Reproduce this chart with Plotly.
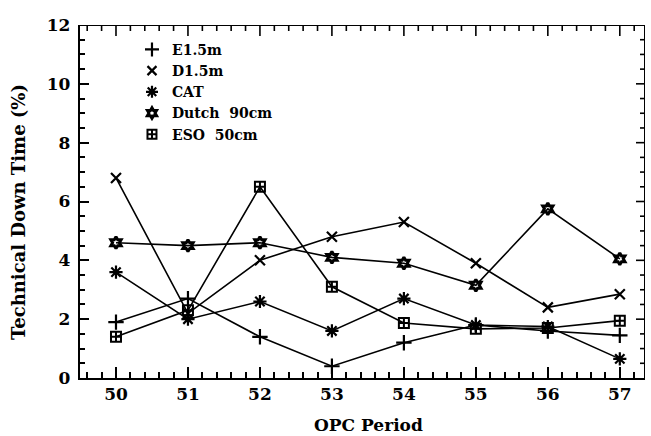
import numpy as np
import plotly.graph_objects as go

periods = [50, 51, 52, 53, 54, 55, 56, 57]

e15m = [1.9, 2.7, 1.4, 0.4, 1.2, 1.8, 1.6, 1.45]
d15m = [6.8, 2.2, 4.0, 4.8, 5.3, 3.9, 2.4, 2.85]
cat = [3.6, 2.0, 2.6, 1.6, 2.7, 1.8, 1.75, 0.65]
dutch90 = [4.6, 4.5, 4.6, 4.1, 3.9, 3.15, 5.75, 4.05]
eso50 = [1.4, 2.3, 6.5, 3.1, 1.87, 1.67, 1.7, 1.95]

series = [
    ("E1.5m", e15m, "cross-thin", 11, 2.2),
    ("D1.5m", d15m, "x-thin", 10, 2.2),
    ("CAT", cat, "asterisk", 11, 2.2),
    ("Dutch  90cm", dutch90, "hexagram-open", 9, 3),
    ("ESO  50cm", eso50, "square-cross-open", 10, 2),
]

FONT = "DejaVu Serif"
XRANGE = [49.5, 57.35]
YRANGE = [0, 12]
X_MINOR = 0.2
Y_MINOR = 0.5
Y_MAJOR = 2

fig = go.Figure()
for name, vals, sym, size, lw in series:
    fig.add_trace(go.Scatter(
        x=periods, y=vals, mode="lines+markers", name=name, showlegend=False,
        line=dict(color="black", width=1.6),
        marker=dict(symbol=sym, size=size, color="black",
                    line=dict(color="black", width=lw)),
    ))
    # legend entries show the symbol only
    fig.add_trace(go.Scatter(
        x=[None], y=[None], mode="markers", name=name,
        marker=dict(symbol=sym, size=size - 1, color="black",
                    line=dict(color="black", width=lw)),
    ))

# top and right edges of the frame, with their tick marks
fx = [XRANGE[0], XRANGE[1], XRANGE[1]]
fy = [YRANGE[1], YRANGE[1], YRANGE[0]]
fig.add_trace(go.Scatter(x=fx, y=fy, mode="lines", showlegend=False,
                         hoverinfo="skip", cliponaxis=False,
                         line=dict(color="black", width=2)))

x_len = (YRANGE[1] - YRANGE[0]) / 353.0   # data units per pixel, vertical
y_len = (XRANGE[1] - XRANGE[0]) / 565.0   # data units per pixel, horizontal
tx, ty = [], []
for v in np.round(49.6 + X_MINOR * np.arange(39), 2):
    if v >= XRANGE[1]:
        break
    major = abs(v - round(v)) < 1e-6
    tx += [v, v, None]
    ty += [YRANGE[1], YRANGE[1] - (11 if major else 6) * x_len, None]
for v in np.round(YRANGE[0] + Y_MINOR * np.arange(1, 24), 2):
    major = abs(v / Y_MAJOR - round(v / Y_MAJOR)) < 1e-6
    tx += [XRANGE[1], XRANGE[1] - (9 if major else 5) * y_len, None]
    ty += [v, v, None]
fig.add_trace(go.Scatter(x=tx, y=ty, mode="lines", showlegend=False,
                         hoverinfo="skip", cliponaxis=False,
                         line=dict(color="black", width=1.6)))

tick_font = dict(family=FONT, size=17, color="black", weight="bold")

frame = dict(
    showline=True, linecolor="black", linewidth=2,
    ticks="inside", tickcolor="black", tickwidth=2,
    showgrid=False, zeroline=False,
)

fig.update_layout(
    width=651, height=436,
    margin=dict(l=80, r=6, t=25, b=58, autoexpand=False),
    paper_bgcolor="white", plot_bgcolor="white",
    xaxis=dict(range=XRANGE, tickfont=tick_font,
               tickvals=periods, ticklen=11,
               minor=dict(dtick=X_MINOR, tick0=50, ticks="inside", ticklen=6,
                          tickcolor="black", tickwidth=1.5),
               **frame),
    yaxis=dict(range=YRANGE, tickfont=tick_font, ticksuffix="\u2005",
               dtick=Y_MAJOR, ticklen=9,
               minor=dict(dtick=Y_MINOR, ticks="inside", ticklen=5,
                          tickcolor="black", tickwidth=1.5),
               **frame),
    legend=dict(x=0.092, y=0.975, xanchor="left", yanchor="top",
                bgcolor="rgba(0,0,0,0)", itemwidth=30, tracegroupgap=0,
                font=dict(family=FONT, size=14, color="black",
                          weight="bold")),
)

# axis titles
fig.add_annotation(text="OPC Period", xref="paper", yref="paper",
                   x=0.51, y=-0.133, xanchor="center", yanchor="middle",
                   showarrow=False,
                   font=dict(family=FONT, size=17, color="black", weight="bold"))
fig.add_annotation(text="Technical Down Time (%)", xref="paper", yref="paper",
                   x=0, xshift=-62, y=0.47, xanchor="center", yanchor="middle",
                   textangle=-90, showarrow=False,
                   font=dict(family=FONT, size=18, color="black", weight="bold"))

fig.write_html("out.html")
